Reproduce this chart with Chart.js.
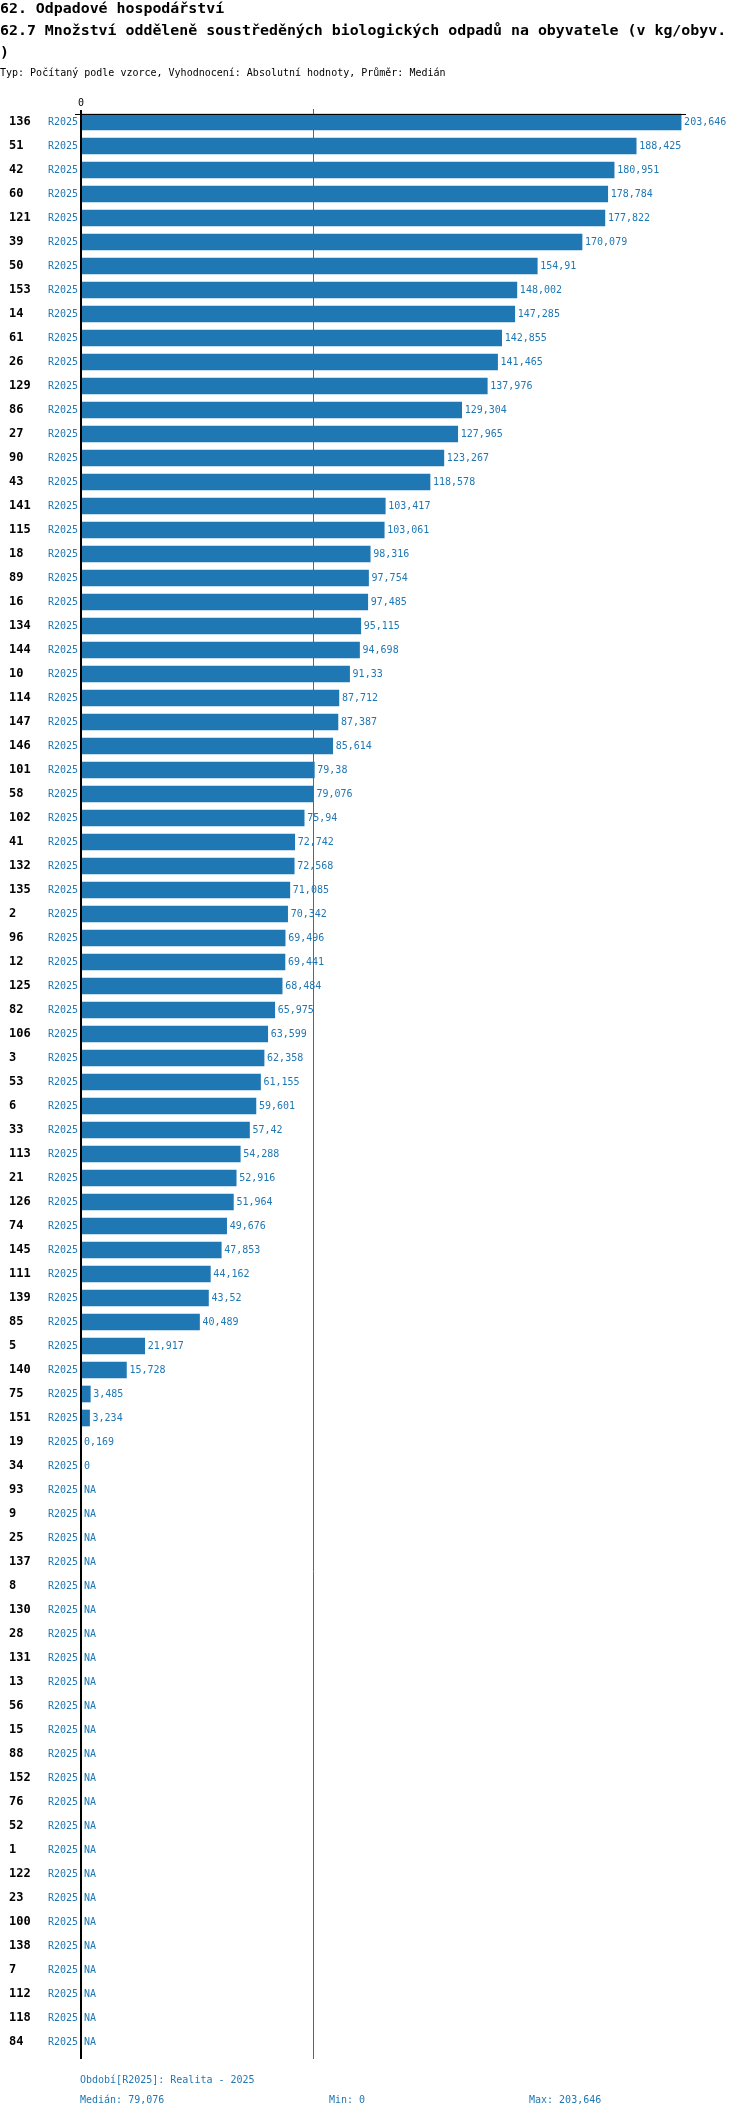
<!DOCTYPE html>
<html>
<head>
<meta charset="utf-8">
<script src="https://cdn.jsdelivr.net/npm/chart.js@4.4.1/dist/chart.umd.min.js"></script>
<style>
  html, body { margin: 0; padding: 0; background: #ffffff; }
  body { width: 750px; height: 2118px; overflow: hidden; }
  canvas { display: block; }
</style>
</head>
<body>
<canvas id="chart" width="750" height="2118"></canvas>
<script>
// ---------- DATA ----------
const titleLines = [
  "62. Odpadové hospodářství",
  "62.7 Množství odděleně soustředěných biologických odpadů na obyvatele (v kg/obyv.",
  ")"
];
const subtitle = "Typ: Počítaný podle vzorce, Vyhodnocení: Absolutní hodnoty, Průměr: Medián";
const periodCode = "R2025";
const periodLegend = "Období[R2025]: Realita - 2025";

const categories = [
  "136","51","42","60","121","39","50","153","14","61",
  "26","129","86","27","90","43","141","115","18","89",
  "16","134","144","10","114","147","146","101","58","102",
  "41","132","135","2","96","12","125","82","106","3",
  "53","6","33","113","21","126","74","145","111","139",
  "85","5","140","75","151","19","34","93","9","25",
  "137","8","130","28","131","13","56","15","88","152",
  "76","52","1","122","23","100","138","7","112","118",
  "84"
];
const values = [
  203.646,188.425,180.951,178.784,177.822,170.079,154.91,148.002,147.285,142.855,
  141.465,137.976,129.304,127.965,123.267,118.578,103.417,103.061,98.316,97.754,
  97.485,95.115,94.698,91.33,87.712,87.387,85.614,79.38,79.076,75.94,
  72.742,72.568,71.085,70.342,69.496,69.441,68.484,65.975,63.599,62.358,
  61.155,59.601,57.42,54.288,52.916,51.964,49.676,47.853,44.162,43.52,
  40.489,21.917,15.728,3.485,3.234,0.169,0,null,null,null,
  null,null,null,null,null,null,null,null,null,null,
  null,null,null,null,null,null,null,null,null,null,
  null
];
const xTicks = [0];
const xMax = 205.3;

// ---------- STATS ----------
const present = values.filter(v => v !== null).slice().sort((a, b) => a - b);
const mid = Math.floor(present.length / 2);
const median = present.length % 2 ? present[mid] : (present[mid - 1] + present[mid]) / 2;
const minVal = present[0];
const maxVal = present[present.length - 1];
const fmt = v => (v === null ? "NA" : String(+v.toFixed(3)).replace(".", ","));

// ---------- STYLE ----------
const BLUE = "#1f77b4";
const MONO = "'DejaVu Sans Mono', 'Liberation Mono', monospace";

const decorPlugin = {
  id: "decor",
  beforeDatasetsDraw(chart) {
    const ctx = chart.ctx;
    const x = chart.scales.x;
    const area = chart.chartArea;
    const mx = Math.round(x.getPixelForValue(median)) + 0.5;
    ctx.save();
    ctx.strokeStyle = BLUE;
    ctx.lineWidth = 1;
    ctx.beginPath();
    ctx.moveTo(mx, area.top - 1);
    ctx.lineTo(mx, area.bottom + 5);
    ctx.stroke();
    ctx.restore();
  },
  afterDraw(chart) {
    const ctx = chart.ctx;
    const x = chart.scales.x;
    const y = chart.scales.y;
    const area = chart.chartArea;
    ctx.save();
    ctx.textBaseline = "middle";

    // titles
    ctx.fillStyle = "#000";
    ctx.textAlign = "left";
    ctx.font = "bold 14.9px " + MONO;
    titleLines.forEach((t, i) => ctx.fillText(t, 0, 9 + i * 22));
    ctx.font = "10px " + MONO;
    ctx.fillText(subtitle, 0, 73);

    // axes
    const x0 = x.getPixelForValue(0);
    const axisY = area.top + 4;
    ctx.fillStyle = "#000";
    ctx.fillRect(Math.round(x0), area.top, 2, area.bottom + 5 - area.top);
    ctx.fillRect(Math.round(x0) - 5, axisY, area.right - x0 + 5, 1);
    ctx.font = "10px " + MONO;
    ctx.textAlign = "center";
    xTicks.forEach(t => ctx.fillText(String(t), x.getPixelForValue(t) + 1, area.top - 7));

    // rows
    categories.forEach((c, i) => {
      const cy = y.getPixelForValue(i);
      ctx.textAlign = "left";
      ctx.fillStyle = "#000";
      ctx.font = "bold 12px " + MONO;
      ctx.fillText(c, 9, cy);
      ctx.fillStyle = BLUE;
      ctx.font = "10px " + MONO;
      ctx.fillText(periodCode, 48, cy);
      const v = values[i];
      const end = v === null ? x0 : x.getPixelForValue(v);
      ctx.fillText(fmt(v), Math.max(end + 3, x0 + 4), cy);
    });

    // footer
    ctx.fillStyle = BLUE;
    ctx.font = "10px " + MONO;
    ctx.textAlign = "left";
    ctx.fillText(periodLegend, 80, 2080);
    ctx.fillText("Medián: " + fmt(median), 80, 2100);
    ctx.fillText("Min: " + fmt(minVal), 329, 2100);
    ctx.fillText("Max: " + fmt(maxVal), 529, 2100);
    ctx.restore();
  }
};

new Chart(document.getElementById("chart"), {
  type: "bar",
  data: {
    labels: categories,
    datasets: [{
      data: values,
      backgroundColor: BLUE,
      borderWidth: 0,
      barThickness: 16,
      categoryPercentage: 1,
      barPercentage: 1
    }]
  },
  options: {
    indexAxis: "y",
    responsive: false,
    devicePixelRatio: 1,
    animation: false,
    layout: { padding: { left: 80, right: 64, top: 110, bottom: 64 } },
    scales: {
      x: { display: false, min: 0, max: xMax },
      y: { display: false, offset: true, grid: { offset: true } }
    },
    plugins: { legend: { display: false }, tooltip: { enabled: false }, title: { display: false } }
  },
  plugins: [decorPlugin]
});
</script>
</body>
</html>
